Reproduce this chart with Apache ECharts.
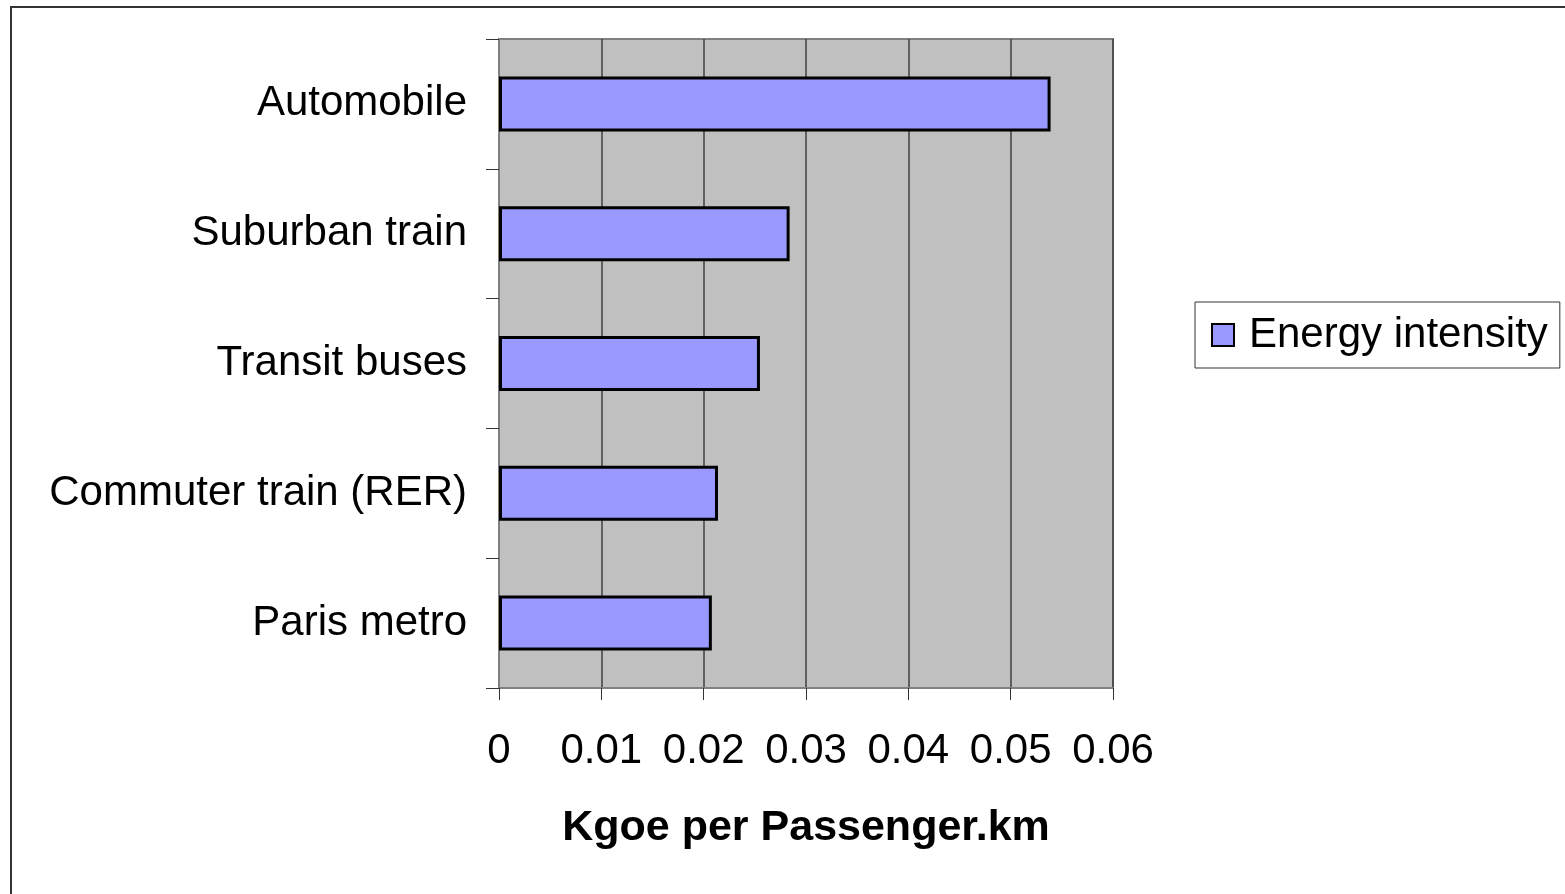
<!DOCTYPE html>
<html>
<head>
<meta charset="utf-8">
<title>Energy intensity</title>
<script src="https://cdn.jsdelivr.net/npm/echarts@6/dist/echarts.min.js"></script>
<style>
  html, body { margin: 0; padding: 0; background: #fff; }
  #chart { width: 1565px; height: 894px; }
</style>
</head>
<body>
<div id="chart"></div>
<script>
  // categories top to bottom
  var categories = ['Automobile', 'Suburban train', 'Transit buses', 'Commuter train (RER)', 'Paris metro'];
  var energyIntensity = [0.0539, 0.0284, 0.0255, 0.0214, 0.0208];
  var xTicks = [0, 0.01, 0.02, 0.03, 0.04, 0.05, 0.06];

  var chart = echarts.init(document.getElementById('chart'));
  var font = 'Liberation Sans, Arial, sans-serif';

  var option = {
    animation: false,
    backgroundColor: '#fff',
    graphic: [{
      type: 'rect',
      shape: { x: 11, y: 7, width: 1700, height: 1000 },
      style: { fill: 'none', stroke: '#333', lineWidth: 2 },
      silent: true
    }],
    grid: {
      left: 499, top: 39, right: 452, bottom: 206,
      show: true,
      backgroundColor: '#c0c0c0',
      borderColor: '#808080',
      borderWidth: 2
    },
    legend: {
      data: ['Energy intensity'],
      left: 1195, top: 302,
      orient: 'vertical',
      padding: [12, 12, 12, 16],
      borderColor: '#333',
      borderWidth: 1,
      itemWidth: 22,
      itemHeight: 22,
      icon: 'rect',
      textStyle: { fontFamily: font, fontSize: 42, color: '#000', padding: [0, 0, 0, 10] }
    },
    xAxis: {
      type: 'value',
      min: 0, max: 0.06, interval: 0.01,
      name: 'Kgoe per Passenger.km',
      nameLocation: 'middle',
      nameGap: 119,
      nameTextStyle: { fontFamily: font, fontSize: 43, fontWeight: 'bold', color: '#000' },
      axisLine: { show: true, lineStyle: { color: '#808080', width: 2 } },
      axisTick: { show: true, length: 12, lineStyle: { color: '#333', width: 1 } },
      axisLabel: {
        margin: 42, fontFamily: font, fontSize: 42, color: '#000',
        formatter: function (v) {
          var i = xTicks.indexOf(Math.round(v * 100) / 100);
          return i >= 0 ? String(xTicks[i]) : '';
        }
      },
      splitLine: { show: true, lineStyle: { color: '#404040', width: 1.5 } }
    },
    yAxis: {
      type: 'category',
      data: categories,
      inverse: true,
      axisLine: { show: true, lineStyle: { color: '#808080', width: 2 } },
      axisTick: { show: true, length: 13, lineStyle: { color: '#333', width: 1 } },
      axisLabel: { margin: 32, fontFamily: font, fontSize: 42, color: '#000' },
      splitLine: { show: false }
    },
    series: [{
      name: 'Energy intensity',
      type: 'bar',
      data: energyIntensity,
      barWidth: 55,
      itemStyle: { color: '#9999ff', borderColor: '#000', borderWidth: 3 }
    }]
  };

  chart.setOption(option);
</script>
</body>
</html>
